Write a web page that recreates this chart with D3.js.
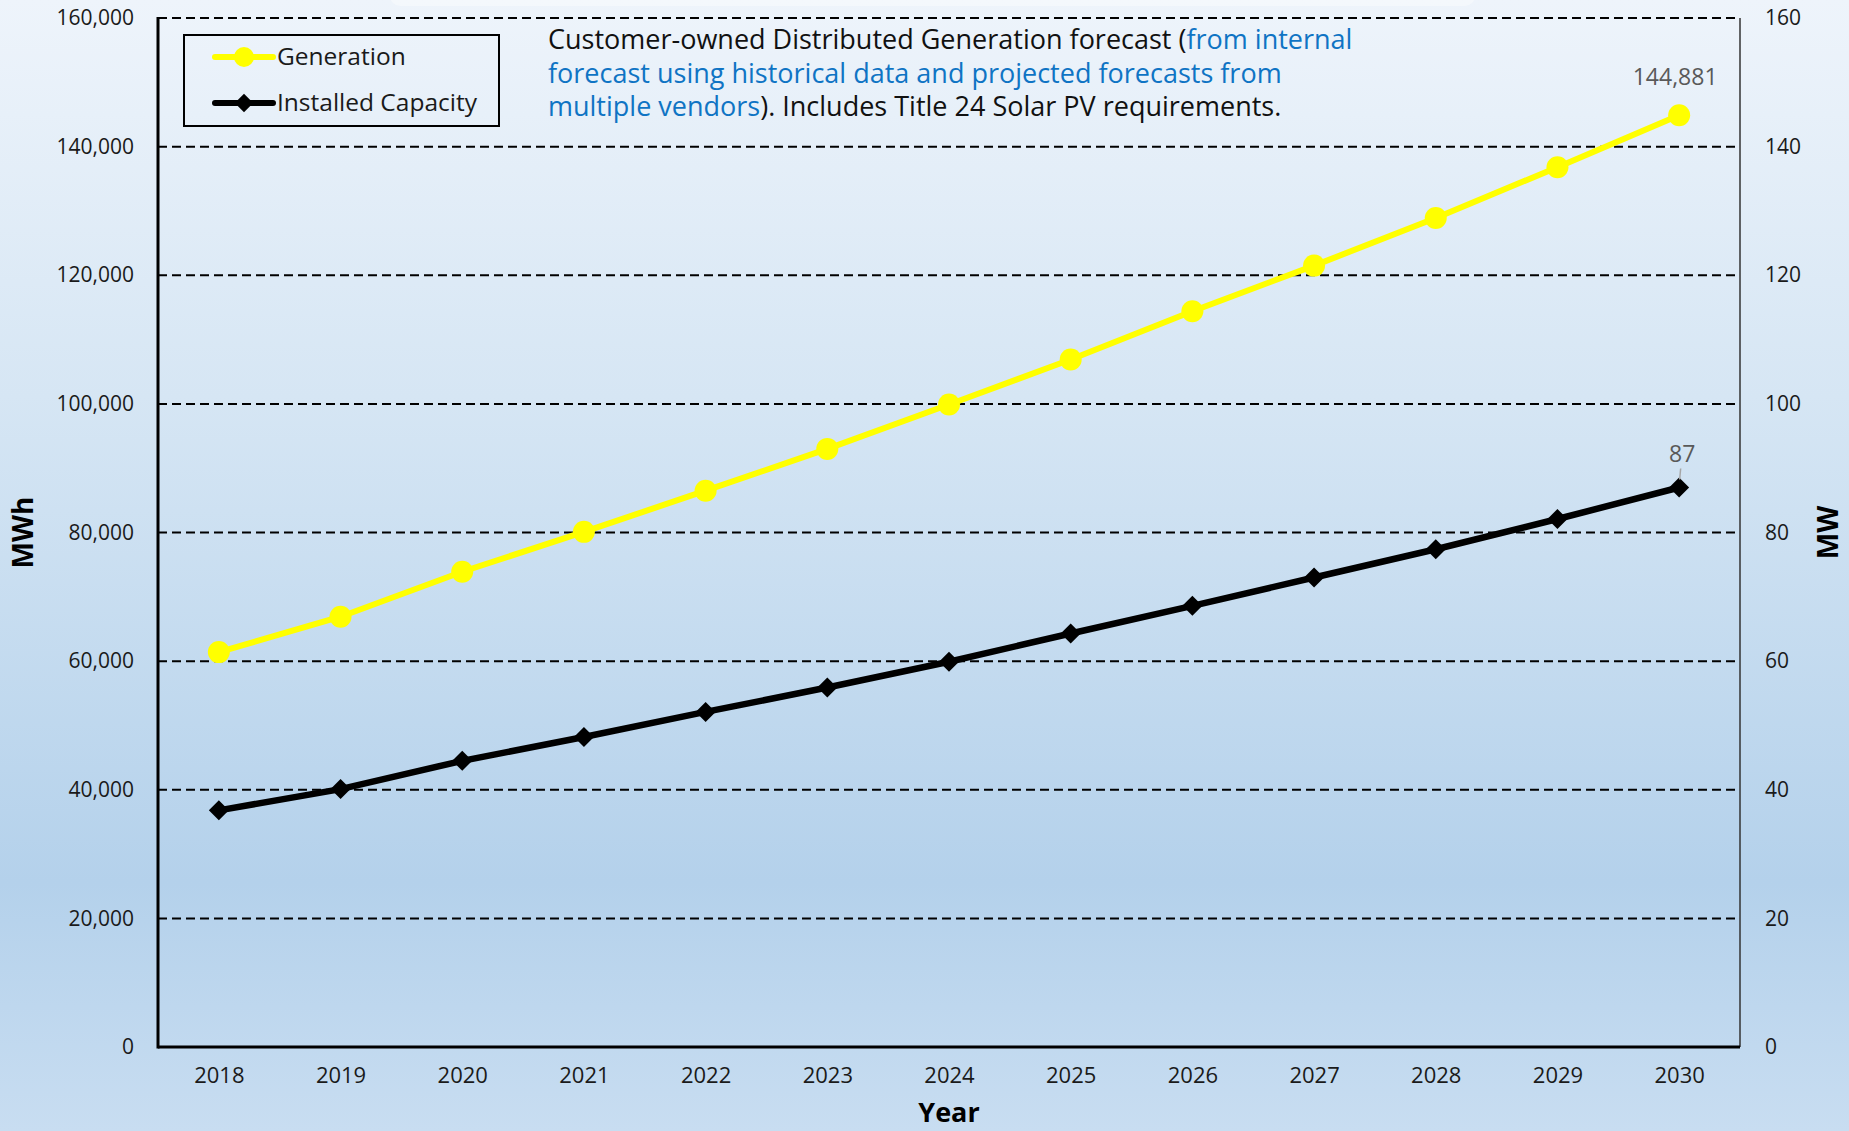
<!DOCTYPE html>
<html>
<head>
<meta charset="utf-8">
<script src="https://cdn.jsdelivr.net/npm/d3@7"></script>
<style>
  html, body { margin: 0; padding: 0; background: #dbe8f5; }
  svg { display: block; }
  text { font-family: "Open Sans", "DejaVu Sans", sans-serif; }
</style>
</head>
<body>
<script>
// Forecast years and the two series (energy in MWh, capacity in MW)
const years = ["2018","2019","2020","2021","2022","2023","2024","2025","2026","2027","2028","2029","2030"];
const generationMWh = [61400, 66900, 73900, 80100, 86500, 93000, 99900, 106900, 114400, 121500, 128900, 136800, 144881];
const capacityMW = [36.8, 40.1, 44.5, 48.2, 52.1, 55.9, 59.9, 64.3, 68.6, 73.0, 77.4, 82.1, 87];
const leftTicks = [0, 20000, 40000, 60000, 80000, 100000, 120000, 140000, 160000];
const rightTicks = [0, 20, 40, 60, 80, 100, 120, 140, 160];
const seriesNames = ["Generation", "Installed Capacity"];

const W = 1849, H = 1131;
const m = { left: 158, right: 1740, top: 18, bottom: 1047 };

const svg = d3.select("body").append("svg").attr("width", W).attr("height", H);

// Page background: soft vertical blue gradient
const defs = svg.append("defs");
const grad = defs.append("linearGradient").attr("id", "bg").attr("x1", 0).attr("y1", 0).attr("x2", 0).attr("y2", 1);
[["0%", "#eef4fb"], ["35%", "#d6e6f4"], ["78%", "#b4d1eb"], ["100%", "#c8ddf1"]]
  .forEach(([o, c]) => grad.append("stop").attr("offset", o).attr("stop-color", c));
svg.append("rect").attr("width", W).attr("height", H).attr("fill", "url(#bg)");
svg.append("rect").attr("x", 390).attr("y", -20).attr("width", 1085).attr("height", 26)
  .attr("rx", 10).attr("fill", "#ffffff").attr("opacity", 0.35);

const x = d3.scalePoint().domain(years).range([m.left, m.right]).padding(0.5);
const yL = d3.scaleLinear().domain([0, 160000]).range([m.bottom, m.top]);
const yR = d3.scaleLinear().domain([0, 160]).range([m.bottom, m.top]);

// Dashed horizontal gridlines
svg.append("g").selectAll("line").data(leftTicks.filter(d => d > 0)).join("line")
  .attr("x1", m.left).attr("x2", m.right)
  .attr("y1", d => yL(d)).attr("y2", d => yL(d))
  .attr("stroke", "#000").attr("stroke-width", 2).attr("stroke-dasharray", "9,5");

// Axes
const axL = svg.append("g").attr("transform", `translate(${m.left},0)`)
  .call(d3.axisLeft(yL).tickValues(leftTicks).tickFormat(d3.format(",")).tickSize(0).tickPadding(24));
const axR = svg.append("g").attr("transform", `translate(${m.right},0)`)
  .call(d3.axisRight(yR).tickValues(rightTicks).tickSize(0).tickPadding(25));
const axB = svg.append("g").attr("transform", `translate(0,${m.bottom})`)
  .call(d3.axisBottom(x).tickSize(0).tickPadding(20));
[axL, axR, axB].forEach(g => {
  g.select(".domain").remove();
  g.selectAll("text").attr("font-family", "'Open Sans', sans-serif").attr("fill", "#1a1a1a");
});
axL.selectAll("text").attr("font-size", 21);
axR.selectAll("text").attr("font-size", 21);
axB.selectAll("text").attr("font-size", 22);

// Frame lines
svg.append("line").attr("x1", m.right).attr("x2", m.right).attr("y1", m.top).attr("y2", m.bottom)
  .attr("stroke", "#333").attr("stroke-width", 1.5);
svg.append("line").attr("x1", m.left).attr("x2", m.left).attr("y1", m.top - 1).attr("y2", m.bottom + 1.5)
  .attr("stroke", "#000").attr("stroke-width", 3);
svg.append("line").attr("x1", m.left).attr("x2", m.right).attr("y1", m.bottom).attr("y2", m.bottom)
  .attr("stroke", "#000").attr("stroke-width", 3);

// Axis titles
svg.append("text").attr("transform", `translate(33,${(m.top + m.bottom) / 2}) rotate(-90)`)
  .attr("text-anchor", "middle").attr("font-size", 28).attr("font-weight", "bold").text("MWh");
svg.append("text").attr("transform", `translate(1838,${(m.top + m.bottom) / 2}) rotate(-90)`)
  .attr("text-anchor", "middle").attr("font-size", 28).attr("font-weight", "bold").text("MW");
svg.append("text").attr("x", (m.left + m.right) / 2).attr("y", 1122)
  .attr("text-anchor", "middle").attr("font-size", 27).attr("font-weight", "bold").text("Year");

// Series lines and markers
const genData = years.map((yr, i) => ({ yr, v: generationMWh[i] }));
const capData = years.map((yr, i) => ({ yr, v: capacityMW[i] }));

svg.append("path").datum(genData)
  .attr("d", d3.line().x(d => x(d.yr)).y(d => yL(d.v)))
  .attr("fill", "none").attr("stroke", "#ffff00").attr("stroke-width", 6);
svg.append("g").selectAll("circle").data(genData).join("circle")
  .attr("cx", d => x(d.yr)).attr("cy", d => yL(d.v)).attr("r", 11).attr("fill", "#ffff00");

svg.append("path").datum(capData)
  .attr("d", d3.line().x(d => x(d.yr)).y(d => yR(d.v)))
  .attr("fill", "none").attr("stroke", "#000").attr("stroke-width", 6.5);
svg.append("g").selectAll("path").data(capData).join("path")
  .attr("transform", d => `translate(${x(d.yr)},${yR(d.v)}) rotate(45)`)
  .attr("d", d3.symbol().type(d3.symbolSquare).size(200)).attr("fill", "#000");

// End-point value labels
const lastG = genData[genData.length - 1];
svg.append("text").attr("x", x(lastG.yr) - 4).attr("y", yL(lastG.v) - 30)
  .attr("text-anchor", "middle").attr("font-size", 23).attr("fill", "#595959")
  .text(d3.format(",")(lastG.v));
const lastC = capData[capData.length - 1];
svg.append("line").attr("x1", x(lastC.yr) + 1.5).attr("x2", x(lastC.yr) + 0.5)
  .attr("y1", yR(lastC.v) - 19).attr("y2", yR(lastC.v) - 8)
  .attr("stroke", "#a6a6a6").attr("stroke-width", 1.5);
svg.append("text").attr("x", x(lastC.yr) + 3).attr("y", yR(lastC.v) - 25)
  .attr("text-anchor", "middle").attr("font-size", 23).attr("fill", "#595959")
  .text(d3.format(",")(lastC.v));

// Legend
const lg = svg.append("g");
lg.append("rect").attr("x", 184).attr("y", 35).attr("width", 315).attr("height", 91)
  .attr("fill", "none").attr("stroke", "#000").attr("stroke-width", 2);
const rows = [
  { name: seriesNames[0], y: 57, color: "#ffff00", shape: "circle" },
  { name: seriesNames[1], y: 103, color: "#000", shape: "diamond" }
];
rows.forEach(r => {
  lg.append("line").attr("x1", 215).attr("x2", 273).attr("y1", r.y).attr("y2", r.y)
    .attr("stroke", r.color).attr("stroke-width", 6).attr("stroke-linecap", "round");
  if (r.shape === "circle") {
    lg.append("circle").attr("cx", 244).attr("cy", r.y).attr("r", 10).attr("fill", r.color);
  } else {
    lg.append("path").attr("transform", `translate(244,${r.y}) rotate(45)`)
      .attr("d", d3.symbol().type(d3.symbolSquare).size(170)).attr("fill", r.color);
  }
  lg.append("text").attr("x", 277).attr("y", r.y + 8).attr("font-size", 24.5).attr("fill", "#1a1a1a").text(r.name);
});

// Annotation block
const note = svg.append("g").attr("font-size", 27);
const black = "#111", blue = "#0f74c4";
const noteLines = [
  [["Customer-owned Distributed Generation forecast (", black], ["from internal", blue]],
  [["forecast using historical data and projected forecasts from", blue]],
  [["multiple vendors", blue], ["). Includes Title 24 Solar PV requirements.", black]]
];
noteLines.forEach((parts, i) => {
  const t = note.append("text").attr("x", 548).attr("y", 49 + i * 33.5);
  parts.forEach(([s, c]) => t.append("tspan").attr("fill", c).text(s));
});
</script>
</body>
</html>
